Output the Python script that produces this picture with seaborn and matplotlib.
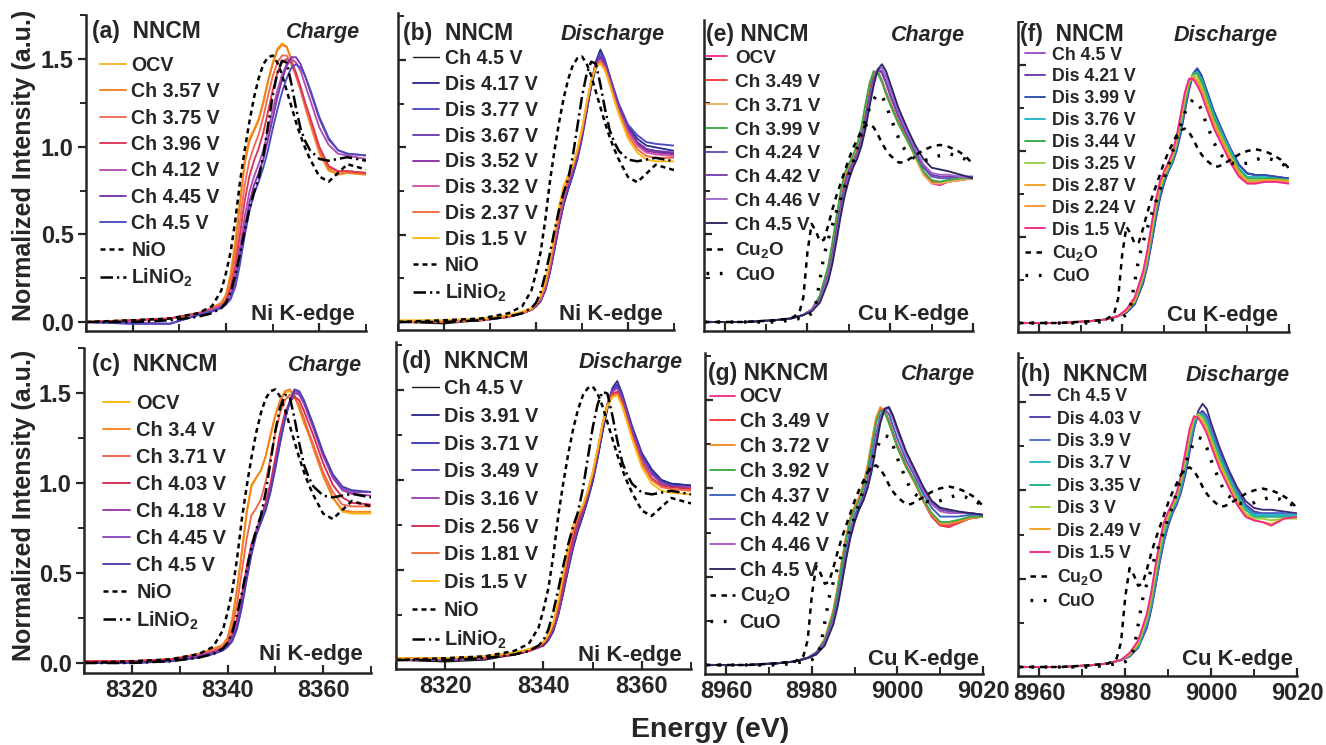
import matplotlib
matplotlib.use("Agg")
import matplotlib.pyplot as plt
from matplotlib.ticker import MultipleLocator
import seaborn as sns

# ---------------- energy grids (eV) ----------------
NI_E = [8310, 8320, 8328, 8334, 8337, 8339, 8340, 8341, 8342, 8343,
        8344, 8345, 8346, 8347, 8348, 8349, 8350, 8351, 8352, 8353,
        8354, 8355, 8356, 8357, 8358, 8360, 8362, 8364, 8366, 8370]
CU_E = [8955, 8965, 8972, 8976, 8979, 8981, 8983, 8985, 8986, 8987,
        8988, 8989, 8990, 8991, 8992, 8993, 8994, 8995, 8996, 8997,
        8998, 8999, 9000, 9002, 9004, 9006, 9008, 9010, 9012, 9014,
        9017, 9020]
CU_REF_E = [8955, 8965, 8972, 8976, 8978, 8979, 8980, 8981, 8982, 8983,
            8984, 8985, 8986, 8987, 8988, 8989, 8990, 8991, 8992, 8993,
            8994, 8995, 8996, 8997, 8998, 8999, 9000, 9001, 9002, 9003,
            9004, 9006, 9008, 9010, 9012, 9014, 9016, 9018, 9020]

# ---------------- reference standards ----------------
NIO = [0.00, 0.01, 0.02, 0.05, 0.09, 0.18, 0.28, 0.40, 0.58, 0.80,
       0.98, 1.14, 1.28, 1.39, 1.47, 1.51, 1.52, 1.48, 1.41, 1.32,
       1.23, 1.14, 1.06, 0.99, 0.93, 0.83, 0.80, 0.85, 0.90, 0.87]
LINIO2 = [0.00, 0.00, 0.01, 0.03, 0.05, 0.08, 0.11, 0.17, 0.27, 0.39,
          0.52, 0.64, 0.74, 0.82, 0.95, 1.12, 1.29, 1.42, 1.49, 1.48,
          1.36, 1.22, 1.10, 1.03, 0.98, 0.93, 0.92, 0.93, 0.94, 0.92]
CU2O = [0.00, 0.00, 0.01, 0.02, 0.05, 0.14, 0.40, 0.56, 0.52, 0.46,
        0.47, 0.55, 0.64, 0.72, 0.79, 0.86, 0.93, 0.99, 1.04, 1.09,
        1.12, 1.13, 1.11, 1.07, 1.02, 0.98, 0.95, 0.93, 0.91, 0.91,
        0.92, 0.95, 0.98, 1.00, 1.01, 1.00, 0.98, 0.95, 0.90]
CUO = [0.00, 0.00, 0.00, 0.01, 0.02, 0.02, 0.03, 0.05, 0.10, 0.24,
       0.38, 0.47, 0.55, 0.63, 0.70, 0.77, 0.84, 0.91, 0.99, 1.07,
       1.15, 1.22, 1.27, 1.30, 1.29, 1.24, 1.17, 1.11, 1.05, 1.00,
       0.97, 0.93, 0.92, 0.93, 0.95, 0.96, 0.95, 0.93, 0.90]

# ---------------- (a) NNCM Ni charge ----------------
A_LABELS = ['OCV', 'Ch 3.57 V', 'Ch 3.75 V', 'Ch 3.96 V', 'Ch 4.12 V', 'Ch 4.45 V', 'Ch 4.5 V']
A_OCV = [0.00, 0.01, 0.02, 0.05, 0.08, 0.11, 0.16, 0.28, 0.47, 0.70,
         0.93, 1.05, 1.10, 1.16, 1.26, 1.38, 1.48, 1.56, 1.59, 1.57,
         1.49, 1.41, 1.32, 1.22, 1.13, 0.96, 0.86, 0.85, 0.86, 0.85]
A_357 = [0.00, 0.01, 0.02, 0.05, 0.08, 0.11, 0.15, 0.26, 0.44, 0.67,
         0.90, 1.03, 1.09, 1.15, 1.25, 1.37, 1.47, 1.55, 1.58, 1.57,
         1.50, 1.42, 1.33, 1.23, 1.14, 0.97, 0.87, 0.84, 0.85, 0.84]
A_375 = [0.00, 0.01, 0.02, 0.05, 0.08, 0.10, 0.13, 0.22, 0.38, 0.58,
         0.78, 0.92, 1.00, 1.07, 1.17, 1.29, 1.40, 1.48, 1.52, 1.52,
         1.47, 1.40, 1.32, 1.23, 1.15, 0.98, 0.88, 0.86, 0.86, 0.85]
A_396 = [0.00, 0.01, 0.02, 0.05, 0.07, 0.09, 0.12, 0.19, 0.32, 0.50,
         0.69, 0.83, 0.92, 0.99, 1.08, 1.20, 1.32, 1.42, 1.48, 1.50,
         1.48, 1.42, 1.34, 1.25, 1.17, 1.00, 0.89, 0.86, 0.86, 0.85]
A_412 = [0.00, 0.00, -0.01, 0.04, 0.07, 0.09, 0.11, 0.16, 0.27, 0.43,
         0.60, 0.74, 0.83, 0.90, 0.98, 1.09, 1.21, 1.32, 1.41, 1.47,
         1.50, 1.48, 1.43, 1.35, 1.27, 1.11, 1.01, 0.96, 0.95, 0.93]
A_445 = [0.00, -0.01, -0.01, 0.04, 0.06, 0.08, 0.10, 0.14, 0.23, 0.38,
         0.54, 0.68, 0.78, 0.85, 0.93, 1.04, 1.16, 1.28, 1.38, 1.46,
         1.51, 1.51, 1.47, 1.40, 1.32, 1.16, 1.04, 0.98, 0.96, 0.95]
A_450 = [0.00, -0.01, -0.01, 0.04, 0.06, 0.08, 0.10, 0.13, 0.20, 0.33,
         0.49, 0.63, 0.73, 0.80, 0.88, 0.98, 1.10, 1.21, 1.31, 1.39,
         1.45, 1.47, 1.45, 1.40, 1.33, 1.17, 1.05, 0.98, 0.96, 0.95]

# ---------------- (b) NNCM Ni discharge ----------------
B_LABELS = ['Ch 4.5 V', 'Dis 4.17 V', 'Dis 3.77 V', 'Dis 3.67 V', 'Dis 3.52 V',
            'Dis 3.32 V', 'Dis 2.37 V', 'Dis 1.5 V']
B_CH45 = [0.00, -0.01, 0.01, 0.03, 0.05, 0.07, 0.09, 0.12, 0.18, 0.28,
          0.41, 0.55, 0.67, 0.76, 0.84, 0.94, 1.06, 1.20, 1.34, 1.45,
          1.50, 1.46, 1.38, 1.30, 1.22, 1.10, 1.03, 0.99, 0.98, 0.96]
B_417 = [0.00, 0.00, 0.01, 0.03, 0.05, 0.07, 0.09, 0.12, 0.18, 0.28,
         0.41, 0.55, 0.67, 0.76, 0.84, 0.93, 1.05, 1.20, 1.36, 1.49,
         1.56, 1.50, 1.41, 1.32, 1.24, 1.12, 1.05, 1.01, 1.00, 0.98]
B_377 = [0.00, 0.00, 0.01, 0.03, 0.05, 0.07, 0.09, 0.12, 0.18, 0.29,
         0.42, 0.56, 0.68, 0.77, 0.85, 0.94, 1.06, 1.21, 1.36, 1.48,
         1.54, 1.49, 1.41, 1.33, 1.25, 1.13, 1.07, 1.03, 1.02, 1.01]
B_367 = [0.00, 0.00, 0.01, 0.03, 0.05, 0.07, 0.09, 0.12, 0.19, 0.30,
         0.43, 0.57, 0.69, 0.78, 0.86, 0.95, 1.07, 1.22, 1.37, 1.47,
         1.52, 1.48, 1.40, 1.31, 1.23, 1.11, 1.03, 0.99, 0.98, 0.97]
B_352 = [0.00, 0.00, 0.01, 0.03, 0.05, 0.07, 0.09, 0.13, 0.19, 0.30,
         0.44, 0.58, 0.70, 0.79, 0.87, 0.96, 1.08, 1.23, 1.37, 1.47,
         1.51, 1.47, 1.39, 1.30, 1.22, 1.10, 1.02, 0.98, 0.97, 0.96]
B_332 = [0.00, 0.00, 0.01, 0.03, 0.05, 0.07, 0.10, 0.13, 0.20, 0.31,
         0.45, 0.59, 0.71, 0.80, 0.88, 0.97, 1.09, 1.24, 1.38, 1.47,
         1.50, 1.46, 1.38, 1.29, 1.21, 1.09, 1.01, 0.97, 0.96, 0.95]
B_237 = [0.00, 0.00, 0.01, 0.03, 0.05, 0.07, 0.10, 0.14, 0.21, 0.33,
         0.47, 0.62, 0.74, 0.82, 0.89, 0.98, 1.10, 1.25, 1.38, 1.47,
         1.49, 1.45, 1.37, 1.28, 1.20, 1.07, 0.99, 0.95, 0.94, 0.94]
B_150 = [0.01, 0.01, 0.02, 0.04, 0.06, 0.08, 0.11, 0.15, 0.23, 0.35,
         0.50, 0.66, 0.78, 0.84, 0.90, 0.99, 1.11, 1.25, 1.38, 1.46,
         1.48, 1.44, 1.36, 1.27, 1.19, 1.05, 0.97, 0.93, 0.92, 0.92]

# ---------------- (c) NKNCM Ni charge ----------------
C_LABELS = ['OCV', 'Ch 3.4 V', 'Ch 3.71 V', 'Ch 4.03 V', 'Ch 4.18 V', 'Ch 4.45 V', 'Ch 4.5 V']
C_OCV = [0.01, 0.01, 0.02, 0.05, 0.07, 0.10, 0.14, 0.25, 0.42, 0.62,
         0.84, 0.99, 1.03, 1.07, 1.15, 1.26, 1.37, 1.45, 1.50, 1.51,
         1.48, 1.41, 1.33, 1.27, 1.19, 1.04, 0.92, 0.84, 0.83, 0.83]
C_34 = [0.01, 0.01, 0.02, 0.05, 0.08, 0.10, 0.14, 0.24, 0.41, 0.61,
        0.83, 0.98, 1.03, 1.07, 1.15, 1.27, 1.38, 1.46, 1.51, 1.52,
        1.49, 1.42, 1.34, 1.27, 1.19, 1.04, 0.92, 0.85, 0.84, 0.84]
C_371 = [0.01, 0.01, 0.02, 0.05, 0.07, 0.09, 0.12, 0.20, 0.33, 0.51,
         0.69, 0.82, 0.86, 0.91, 1.01, 1.14, 1.28, 1.39, 1.46, 1.49,
         1.48, 1.43, 1.36, 1.28, 1.21, 1.06, 0.95, 0.88, 0.87, 0.87]
C_403 = [0.01, 0.01, 0.02, 0.04, 0.06, 0.08, 0.11, 0.16, 0.25, 0.38,
         0.53, 0.66, 0.74, 0.81, 0.89, 1.00, 1.14, 1.28, 1.39, 1.45,
         1.48, 1.46, 1.40, 1.33, 1.26, 1.11, 0.99, 0.92, 0.89, 0.88]
C_418 = [0.00, 0.00, 0.01, 0.04, 0.06, 0.08, 0.10, 0.14, 0.22, 0.34,
         0.49, 0.63, 0.73, 0.80, 0.87, 0.97, 1.10, 1.24, 1.36, 1.45,
         1.50, 1.49, 1.44, 1.37, 1.30, 1.15, 1.03, 0.96, 0.94, 0.93]
C_445 = [0.00, 0.00, 0.01, 0.03, 0.05, 0.07, 0.09, 0.13, 0.20, 0.32,
         0.47, 0.61, 0.72, 0.79, 0.86, 0.96, 1.09, 1.23, 1.36, 1.45,
         1.51, 1.50, 1.45, 1.38, 1.31, 1.16, 1.04, 0.97, 0.95, 0.95]
C_450 = [0.00, 0.00, 0.01, 0.03, 0.05, 0.07, 0.09, 0.12, 0.19, 0.31,
         0.46, 0.60, 0.71, 0.78, 0.85, 0.95, 1.08, 1.22, 1.35, 1.45,
         1.52, 1.51, 1.46, 1.39, 1.32, 1.17, 1.05, 0.98, 0.96, 0.95]

# ---------------- (d) NKNCM Ni discharge ----------------
D_LABELS = ['Ch 4.5 V', 'Dis 3.91 V', 'Dis 3.71 V', 'Dis 3.49 V', 'Dis 3.16 V',
            'Dis 2.56 V', 'Dis 1.81 V', 'Dis 1.5 V']
D_CH45 = [0.00, -0.01, 0.00, 0.03, 0.05, 0.07, 0.08, 0.11, 0.16, 0.25,
          0.37, 0.50, 0.62, 0.72, 0.80, 0.89, 0.99, 1.12, 1.26, 1.39,
          1.49, 1.53, 1.47, 1.38, 1.29, 1.14, 1.05, 1.00, 0.98, 0.97]
D_391 = [0.00, 0.00, 0.01, 0.03, 0.05, 0.07, 0.08, 0.11, 0.16, 0.25,
         0.37, 0.50, 0.62, 0.72, 0.80, 0.89, 0.99, 1.12, 1.27, 1.41,
         1.51, 1.55, 1.48, 1.39, 1.30, 1.15, 1.06, 1.00, 0.98, 0.97]
D_371 = [0.00, 0.00, 0.01, 0.03, 0.05, 0.07, 0.09, 0.12, 0.17, 0.26,
         0.38, 0.51, 0.63, 0.73, 0.81, 0.90, 1.00, 1.13, 1.28, 1.41,
         1.50, 1.53, 1.47, 1.38, 1.29, 1.14, 1.05, 0.99, 0.97, 0.96]
D_349 = [0.00, 0.00, 0.01, 0.03, 0.05, 0.07, 0.09, 0.12, 0.17, 0.26,
         0.39, 0.52, 0.64, 0.74, 0.82, 0.91, 1.01, 1.14, 1.29, 1.42,
         1.50, 1.52, 1.46, 1.37, 1.28, 1.13, 1.04, 0.99, 0.97, 0.96]
D_316 = [0.00, 0.00, 0.01, 0.03, 0.05, 0.07, 0.09, 0.12, 0.18, 0.27,
         0.40, 0.53, 0.65, 0.75, 0.83, 0.92, 1.02, 1.15, 1.30, 1.42,
         1.49, 1.51, 1.45, 1.36, 1.27, 1.12, 1.03, 0.98, 0.96, 0.96]
D_256 = [0.01, 0.01, 0.01, 0.03, 0.05, 0.07, 0.09, 0.13, 0.19, 0.29,
         0.42, 0.56, 0.68, 0.77, 0.84, 0.93, 1.03, 1.16, 1.31, 1.42,
         1.48, 1.49, 1.43, 1.34, 1.25, 1.10, 1.01, 0.97, 0.96, 0.95]
D_181 = [0.01, 0.01, 0.02, 0.04, 0.06, 0.08, 0.10, 0.14, 0.20, 0.31,
         0.45, 0.59, 0.71, 0.79, 0.85, 0.94, 1.04, 1.17, 1.31, 1.42,
         1.47, 1.48, 1.42, 1.33, 1.24, 1.09, 1.00, 0.96, 0.95, 0.94]
D_150 = [0.01, 0.01, 0.02, 0.04, 0.06, 0.08, 0.10, 0.14, 0.21, 0.33,
         0.48, 0.63, 0.75, 0.81, 0.86, 0.94, 1.04, 1.17, 1.31, 1.41,
         1.46, 1.47, 1.41, 1.32, 1.23, 1.07, 0.98, 0.94, 0.93, 0.92]

# ---------------- (e) NNCM Cu charge ----------------
E_LABELS = ['OCV', 'Ch 3.49 V', 'Ch 3.71 V', 'Ch 3.99 V', 'Ch 4.24 V', 'Ch 4.42 V',
            'Ch 4.46 V', 'Ch 4.5 V']
E_OCV = [0.00, 0.00, 0.01, 0.02, 0.04, 0.07, 0.14, 0.30, 0.42, 0.57,
         0.71, 0.82, 0.88, 0.93, 0.99, 1.08, 1.21, 1.34, 1.42, 1.43,
         1.38, 1.31, 1.25, 1.14, 1.05, 0.95, 0.85, 0.79, 0.78, 0.80,
         0.81, 0.82]
E_349 = [0.00, 0.00, 0.01, 0.02, 0.04, 0.07, 0.14, 0.30, 0.42, 0.57,
         0.71, 0.82, 0.88, 0.93, 0.99, 1.08, 1.21, 1.34, 1.42, 1.42,
         1.37, 1.31, 1.25, 1.14, 1.05, 0.95, 0.85, 0.80, 0.79, 0.80,
         0.81, 0.82]
E_371 = [0.00, 0.00, 0.01, 0.02, 0.04, 0.07, 0.15, 0.31, 0.44, 0.59,
         0.73, 0.84, 0.89, 0.94, 1.00, 1.10, 1.23, 1.36, 1.43, 1.42,
         1.37, 1.30, 1.24, 1.13, 1.04, 0.94, 0.84, 0.79, 0.79, 0.80,
         0.81, 0.82]
E_399 = [0.00, 0.00, 0.01, 0.02, 0.04, 0.07, 0.15, 0.32, 0.45, 0.60,
         0.74, 0.85, 0.90, 0.95, 1.01, 1.11, 1.24, 1.36, 1.43, 1.42,
         1.37, 1.30, 1.24, 1.13, 1.04, 0.95, 0.86, 0.81, 0.80, 0.81,
         0.82, 0.82]
E_424 = [0.00, 0.00, 0.01, 0.02, 0.04, 0.07, 0.13, 0.27, 0.38, 0.52,
         0.66, 0.78, 0.86, 0.91, 0.96, 1.04, 1.16, 1.29, 1.39, 1.44,
         1.42, 1.36, 1.29, 1.17, 1.07, 0.97, 0.88, 0.83, 0.82, 0.82,
         0.83, 0.83]
E_442 = [0.00, 0.00, 0.01, 0.02, 0.04, 0.07, 0.13, 0.26, 0.37, 0.51,
         0.65, 0.77, 0.85, 0.90, 0.95, 1.03, 1.15, 1.28, 1.38, 1.44,
         1.43, 1.37, 1.30, 1.18, 1.08, 0.98, 0.89, 0.84, 0.83, 0.83,
         0.83, 0.82]
E_446 = [0.00, 0.00, 0.01, 0.02, 0.04, 0.07, 0.12, 0.25, 0.35, 0.48,
         0.62, 0.74, 0.83, 0.89, 0.94, 1.01, 1.12, 1.25, 1.36, 1.44,
         1.45, 1.40, 1.33, 1.20, 1.09, 0.99, 0.90, 0.85, 0.84, 0.84,
         0.83, 0.82]
E_450 = [0.00, 0.00, 0.01, 0.02, 0.04, 0.06, 0.11, 0.23, 0.33, 0.46,
         0.60, 0.72, 0.81, 0.88, 0.93, 1.00, 1.10, 1.23, 1.35, 1.44,
         1.47, 1.43, 1.36, 1.22, 1.11, 1.01, 0.93, 0.88, 0.87, 0.86,
         0.84, 0.82]

# ---------------- (f) NNCM Cu discharge ----------------
F_LABELS = ['Ch 4.5 V', 'Dis 4.21 V', 'Dis 3.99 V', 'Dis 3.76 V', 'Dis 3.44 V',
            'Dis 3.25 V', 'Dis 2.87 V', 'Dis 2.24 V', 'Dis 1.5 V']
F_CH45 = [0.00, 0.00, 0.01, 0.02, 0.04, 0.06, 0.11, 0.23, 0.33, 0.46,
          0.60, 0.72, 0.81, 0.88, 0.93, 1.00, 1.10, 1.23, 1.35, 1.44,
          1.47, 1.43, 1.36, 1.22, 1.11, 1.01, 0.92, 0.87, 0.86, 0.86,
          0.85, 0.84]
F_421 = [0.00, 0.00, 0.01, 0.02, 0.04, 0.06, 0.11, 0.23, 0.33, 0.46,
         0.60, 0.72, 0.81, 0.88, 0.93, 1.00, 1.10, 1.23, 1.36, 1.45,
         1.48, 1.44, 1.37, 1.23, 1.12, 1.01, 0.92, 0.87, 0.86, 0.86,
         0.85, 0.84]
F_399 = [0.00, 0.00, 0.01, 0.02, 0.04, 0.06, 0.11, 0.24, 0.34, 0.47,
         0.61, 0.73, 0.82, 0.88, 0.93, 1.00, 1.11, 1.24, 1.37, 1.45,
         1.48, 1.44, 1.37, 1.23, 1.11, 1.01, 0.92, 0.87, 0.86, 0.86,
         0.85, 0.84]
F_376 = [0.00, 0.00, 0.01, 0.02, 0.04, 0.07, 0.12, 0.25, 0.35, 0.49,
         0.63, 0.75, 0.83, 0.89, 0.94, 1.02, 1.13, 1.26, 1.38, 1.45,
         1.46, 1.42, 1.35, 1.21, 1.10, 1.00, 0.90, 0.85, 0.85, 0.85,
         0.84, 0.83]
F_344 = [0.00, 0.00, 0.01, 0.02, 0.04, 0.07, 0.12, 0.26, 0.37, 0.51,
         0.65, 0.77, 0.84, 0.90, 0.95, 1.03, 1.15, 1.28, 1.39, 1.45,
         1.45, 1.40, 1.33, 1.19, 1.08, 0.98, 0.89, 0.84, 0.84, 0.84,
         0.84, 0.83]
F_325 = [0.00, 0.00, 0.01, 0.02, 0.04, 0.07, 0.13, 0.27, 0.38, 0.52,
         0.66, 0.78, 0.85, 0.91, 0.96, 1.04, 1.17, 1.30, 1.40, 1.44,
         1.43, 1.38, 1.31, 1.17, 1.07, 0.97, 0.88, 0.83, 0.83, 0.83,
         0.83, 0.83]
F_287 = [0.00, 0.00, 0.01, 0.02, 0.04, 0.07, 0.13, 0.28, 0.39, 0.54,
         0.68, 0.79, 0.86, 0.91, 0.97, 1.06, 1.19, 1.32, 1.41, 1.43,
         1.41, 1.36, 1.29, 1.16, 1.06, 0.96, 0.87, 0.82, 0.82, 0.83,
         0.83, 0.82]
F_224 = [0.00, 0.00, 0.01, 0.02, 0.04, 0.07, 0.14, 0.29, 0.40, 0.55,
         0.69, 0.80, 0.87, 0.92, 0.98, 1.07, 1.20, 1.33, 1.41, 1.42,
         1.40, 1.35, 1.28, 1.15, 1.05, 0.95, 0.86, 0.82, 0.82, 0.82,
         0.83, 0.82]
F_150 = [0.00, 0.00, 0.01, 0.02, 0.04, 0.08, 0.15, 0.30, 0.42, 0.57,
         0.71, 0.82, 0.88, 0.93, 0.99, 1.08, 1.21, 1.34, 1.42, 1.42,
         1.38, 1.33, 1.26, 1.13, 1.03, 0.93, 0.85, 0.81, 0.81, 0.82,
         0.82, 0.81]

# ---------------- (g) NKNCM Cu charge ----------------
G_LABELS = ['OCV', 'Ch 3.49 V', 'Ch 3.72 V', 'Ch 3.92 V', 'Ch 4.37 V', 'Ch 4.42 V',
            'Ch 4.46 V', 'Ch 4.5 V']
G_OCV = [0.00, 0.00, 0.01, 0.02, 0.04, 0.07, 0.14, 0.30, 0.43, 0.58,
         0.72, 0.83, 0.89, 0.94, 1.01, 1.11, 1.25, 1.38, 1.45, 1.44,
         1.38, 1.31, 1.24, 1.13, 1.04, 0.93, 0.84, 0.79, 0.79, 0.81,
         0.83, 0.84]
G_349 = [0.00, 0.00, 0.01, 0.02, 0.04, 0.07, 0.14, 0.30, 0.43, 0.58,
         0.72, 0.83, 0.89, 0.94, 1.01, 1.11, 1.25, 1.38, 1.45, 1.44,
         1.38, 1.31, 1.24, 1.13, 1.04, 0.93, 0.84, 0.79, 0.78, 0.80,
         0.83, 0.84]
G_372 = [0.00, 0.00, 0.01, 0.02, 0.04, 0.07, 0.15, 0.31, 0.44, 0.59,
         0.73, 0.84, 0.90, 0.95, 1.02, 1.13, 1.27, 1.40, 1.46, 1.44,
         1.37, 1.30, 1.23, 1.12, 1.03, 0.93, 0.85, 0.80, 0.80, 0.81,
         0.83, 0.84]
G_392 = [0.00, 0.00, 0.01, 0.02, 0.04, 0.07, 0.14, 0.29, 0.42, 0.57,
         0.71, 0.82, 0.88, 0.93, 1.00, 1.10, 1.24, 1.37, 1.44, 1.43,
         1.37, 1.30, 1.23, 1.12, 1.04, 0.94, 0.86, 0.81, 0.81, 0.82,
         0.84, 0.84]
G_437 = [0.00, 0.00, 0.01, 0.02, 0.04, 0.07, 0.13, 0.26, 0.37, 0.51,
         0.65, 0.77, 0.85, 0.90, 0.96, 1.05, 1.18, 1.31, 1.41, 1.45,
         1.42, 1.35, 1.28, 1.16, 1.07, 0.97, 0.89, 0.84, 0.84, 0.84,
         0.85, 0.85]
G_442 = [0.00, 0.00, 0.01, 0.02, 0.04, 0.06, 0.12, 0.24, 0.34, 0.47,
         0.61, 0.73, 0.82, 0.88, 0.93, 1.01, 1.12, 1.26, 1.38, 1.45,
         1.46, 1.40, 1.33, 1.20, 1.10, 1.00, 0.92, 0.88, 0.87, 0.86,
         0.86, 0.85]
G_446 = [0.00, 0.00, 0.01, 0.02, 0.04, 0.06, 0.12, 0.25, 0.35, 0.48,
         0.62, 0.74, 0.83, 0.88, 0.94, 1.02, 1.14, 1.28, 1.39, 1.45,
         1.45, 1.39, 1.32, 1.19, 1.09, 0.99, 0.91, 0.87, 0.86, 0.86,
         0.86, 0.85]
G_450 = [0.00, 0.00, 0.01, 0.02, 0.04, 0.06, 0.11, 0.23, 0.33, 0.46,
         0.60, 0.72, 0.81, 0.88, 0.93, 1.00, 1.10, 1.24, 1.37, 1.45,
         1.46, 1.41, 1.34, 1.21, 1.11, 1.01, 0.93, 0.89, 0.88, 0.87,
         0.86, 0.85]

# ---------------- (h) NKNCM Cu discharge ----------------
H_LABELS = ['Ch 4.5 V', 'Dis 4.03 V', 'Dis 3.9 V', 'Dis 3.7 V', 'Dis 3.35 V',
            'Dis 3 V', 'Dis 2.49 V', 'Dis 1.5 V']
H_CH45 = [0.00, 0.00, 0.01, 0.02, 0.04, 0.06, 0.11, 0.22, 0.32, 0.45,
          0.59, 0.71, 0.80, 0.87, 0.92, 0.99, 1.09, 1.22, 1.35, 1.45,
          1.49, 1.46, 1.38, 1.24, 1.12, 1.02, 0.94, 0.90, 0.89, 0.89,
          0.88, 0.87]
H_403 = [0.00, 0.00, 0.01, 0.02, 0.04, 0.06, 0.11, 0.23, 0.33, 0.46,
         0.60, 0.72, 0.81, 0.88, 0.93, 1.00, 1.10, 1.23, 1.35, 1.43,
         1.45, 1.42, 1.35, 1.22, 1.10, 1.00, 0.92, 0.88, 0.87, 0.87,
         0.87, 0.86]
H_390 = [0.00, 0.00, 0.01, 0.02, 0.04, 0.06, 0.11, 0.23, 0.33, 0.46,
         0.60, 0.72, 0.81, 0.88, 0.93, 1.00, 1.11, 1.24, 1.36, 1.43,
         1.44, 1.41, 1.34, 1.21, 1.09, 0.99, 0.91, 0.87, 0.87, 0.87,
         0.87, 0.86]
H_370 = [0.00, 0.00, 0.01, 0.02, 0.04, 0.07, 0.12, 0.25, 0.35, 0.49,
         0.63, 0.75, 0.83, 0.89, 0.94, 1.02, 1.13, 1.27, 1.38, 1.43,
         1.43, 1.39, 1.32, 1.19, 1.08, 0.98, 0.90, 0.86, 0.86, 0.86,
         0.86, 0.86]
H_335 = [0.00, 0.00, 0.01, 0.02, 0.04, 0.07, 0.12, 0.26, 0.36, 0.50,
         0.64, 0.76, 0.84, 0.90, 0.95, 1.03, 1.15, 1.28, 1.39, 1.43,
         1.42, 1.38, 1.31, 1.18, 1.07, 0.97, 0.89, 0.85, 0.85, 0.85,
         0.85, 0.85]
H_300 = [0.00, 0.00, 0.01, 0.02, 0.04, 0.07, 0.13, 0.27, 0.38, 0.52,
         0.66, 0.78, 0.85, 0.91, 0.96, 1.05, 1.17, 1.30, 1.40, 1.43,
         1.41, 1.36, 1.29, 1.16, 1.05, 0.95, 0.87, 0.84, 0.84, 0.83,
         0.84, 0.84]
H_249 = [0.00, 0.00, 0.01, 0.02, 0.04, 0.07, 0.14, 0.29, 0.40, 0.55,
         0.69, 0.80, 0.87, 0.92, 0.98, 1.07, 1.20, 1.33, 1.41, 1.42,
         1.39, 1.34, 1.27, 1.14, 1.04, 0.94, 0.86, 0.83, 0.82, 0.81,
         0.84, 0.85]
H_150 = [0.00, 0.00, 0.01, 0.02, 0.04, 0.08, 0.15, 0.30, 0.42, 0.57,
         0.71, 0.82, 0.88, 0.93, 0.99, 1.09, 1.22, 1.35, 1.42, 1.41,
         1.37, 1.32, 1.25, 1.12, 1.02, 0.92, 0.85, 0.83, 0.82, 0.80,
         0.84, 0.85]

# ---------------- colours ----------------
A_COLORS = ['#F7B52C', '#F27E1E', '#F06A55', '#DE3556', '#B24DB0', '#7B36AE', '#4E4CC4']
B_COLORS = ['#1A1A1A', '#2E2C8C', '#4A4AC2', '#6A3CB2', '#8A2FA2', '#D050AA', '#F26A3A', '#FDB913']
C_COLORS = ['#F9B714', '#F5821F', '#F0644A', '#D9294F', '#9A3AA8', '#8A4ABE', '#4A3FB0']
D_COLORS = ['#1A1A1A', '#2E2C8C', '#3A3AB2', '#5A3DB5', '#9A45B0', '#D42A50', '#F26A3A', '#FDB913']
E_COLORS = ['#F0308C', '#EE3A3A', '#E8B050', '#3AAA45', '#5A55B5', '#7B3FAF', '#A566CC', '#2B2660']
F_COLORS = ['#A050C0', '#6A3AA8', '#2A4FAF', '#22B5C8', '#35A845', '#9ACD45', '#F0A020', '#F7962E', '#F0288A']
G_COLORS = ['#F0308C', '#EE3A3A', '#F08A2A', '#3AAA45', '#3A62C0', '#6A48B8', '#A858C8', '#2B2660']
H_COLORS = ['#3A2A7A', '#4E3AA8', '#4A6AC8', '#22B5C8', '#25B08A', '#9ACD32', '#F0A020', '#F0288A']

# ---------------- style ----------------
sns.set_theme(style="ticks")
plt.rcParams['font.family'] = ['Liberation Sans', 'DejaVu Sans']
plt.rcParams['font.weight'] = 'bold'
plt.rcParams['mathtext.fontset'] = 'custom'
plt.rcParams['mathtext.rm'] = 'Liberation Sans:bold'
plt.rcParams['mathtext.bf'] = 'Liberation Sans:bold'
plt.rcParams['mathtext.it'] = 'Liberation Sans:bold:italic'
plt.rcParams['axes.linewidth'] = 1.6

W, H = 1326, 745
fig = plt.figure(figsize=(W / 100, H / 100), dpi=100)


def fx(x):
    return x / W


def fy(y):
    return 1 - y / H


def ftext(x, y_center, s, size, **kw):
    # place text so that the middle of its capitals sits at y_center (pixels from top)
    spx = size * 100 / 72
    return fig.text(fx(x), fy(y_center + 0.36 * spx), s, fontsize=size,
                    fontweight='bold', va='baseline', **kw)


NI_REFS = [(NI_E, NIO, 'NiO', (0, (2.0, 1.6))),
           (NI_E, LINIO2, 'LiNiO$_2$', (0, (5.0, 1.6, 0.9, 1.6)))]
CU_REFS = [(CU_REF_E, CU2O, 'Cu$_2$O', (0, (2.2, 2.2))),
           (CU_REF_E, CUO, 'CuO', (0, (0.8, 3.2)))]

# leg = (handle_left_x, first_row_y, k, row_k_y, fontsize, handlelength, handletextpad)
PANELS = [
    dict(tag='(a)  NNCM', mode='Charge', edge='Ni K-edge', E=NI_E,
         curves=[A_OCV, A_357, A_375, A_396, A_412, A_445, A_450],
         labels=A_LABELS, colors=A_COLORS, refs=NI_REFS, ni=True,
         box=(86, 366, 15, 331, 322, 59), title=(92, 30), mode_x=360, edge_xy=(355, 312),
         leg=(100, 63.3, 7, 248.3, 14.1, 1.35, 0.25), xlab=False, ylab=True),
    dict(tag='(b)  NNCM', mode='Discharge', edge='Ni K-edge', E=NI_E,
         curves=[B_CH45, B_417, B_377, B_367, B_352, B_332, B_237, B_150],
         labels=B_LABELS, colors=B_COLORS, refs=NI_REFS, ni=True,
         box=(398, 674, 13, 330, 322, 60), title=(403, 32), mode_x=665, edge_xy=(663, 312),
         leg=(413, 56.7, 8, 263.3, 14.1, 1.35, 0.28), xlab=False, ylab=False),
    dict(tag='(e) NNCM', mode='Charge', edge='Cu K-edge', E=CU_E,
         curves=[E_OCV, E_349, E_371, E_399, E_424, E_442, E_446, E_450],
         labels=E_LABELS, colors=E_COLORS, refs=CU_REFS, ni=False,
         box=(704, 973, 20, 331, 322, 59), title=(706, 33), mode_x=965, edge_xy=(969, 312),
         leg=(706, 56.7, 7, 223.3, 13.7, 1.1, 0.43), xlab=False, ylab=False),
    dict(tag='(f)  NNCM', mode='Discharge', edge='Cu K-edge', E=CU_E,
         curves=[F_CH45, F_421, F_399, F_376, F_344, F_325, F_287, F_224, F_150],
         labels=F_LABELS, colors=F_COLORS, refs=CU_REFS, ni=False,
         box=(1018, 1289, 22, 332, 323, 65), title=(1020, 33), mode_x=1278, edge_xy=(1278, 313),
         leg=(1025, 53.3, 8, 228.3, 12.8, 1.15, 0.38), xlab=False, ylab=False),
    dict(tag='(c)  NKNCM', mode='Charge', edge='Ni K-edge', E=NI_E,
         curves=[C_OCV, C_34, C_371, C_403, C_418, C_445, C_450],
         labels=C_LABELS, colors=C_COLORS, refs=NI_REFS, ni=True,
         box=(84, 371, 348, 673, 663, 393), title=(92, 363), mode_x=362, edge_xy=(363, 652),
         leg=(103, 401.7, 7, 590.0, 14.4, 1.35, 0.31), xlab=True, ylab=True),
    dict(tag='(d)  NKNCM', mode='Discharge', edge='Ni K-edge', E=NI_E,
         curves=[D_CH45, D_391, D_371, D_349, D_316, D_256, D_181, D_150],
         labels=D_LABELS, colors=D_COLORS, refs=NI_REFS, ni=True,
         box=(396, 691, 342, 669, 660, 390), title=(402, 360), mode_x=683, edge_xy=(682, 653),
         leg=(412, 386.7, 8, 608.3, 14.4, 1.35, 0.25), xlab=True, ylab=False),
    dict(tag='(g) NKNCM', mode='Charge', edge='Cu K-edge', E=CU_E,
         curves=[G_OCV, G_349, G_372, G_392, G_437, G_442, G_446, G_450],
         labels=G_LABELS, colors=G_COLORS, refs=CU_REFS, ni=False,
         box=(705, 983, 353, 674, 665, 400), title=(708, 372), mode_x=975, edge_xy=(979, 657),
         leg=(710, 395.0, 7, 568.3, 14.2, 1.25, 0.25), xlab=True, ylab=False),
    dict(tag='(h)  NKNCM', mode='Discharge', edge='Cu K-edge', E=CU_E,
         curves=[H_CH45, H_403, H_390, H_370, H_335, H_300, H_249, H_150],
         labels=H_LABELS, colors=H_COLORS, refs=CU_REFS, ni=False,
         box=(1018, 1297, 353, 676, 667, 402), title=(1021, 373), mode_x=1290, edge_xy=(1293, 657),
         leg=(1030, 395.0, 7, 551.7, 12.8, 1.15, 0.38), xlab=True, ylab=False),
]

axes = []
for p in PANELS:
    l, r, t, b, y0, y15 = p['box']
    ax = fig.add_axes([fx(l), fy(b), (r - l) / W, (b - t) / H])
    axes.append(ax)
    unit = (y0 - y15) / 1.5
    for vals, lab, col in zip(p['curves'], p['labels'], p['colors']):
        lw = 1.0 if col == '#1A1A1A' else 1.35
        sns.lineplot(x=p['E'], y=vals, ax=ax, color=col, linewidth=lw, label=lab)
    for (Eref, vals, lab, ls) in p['refs']:
        lw = 2.4 if lab == 'CuO' else 1.8
        sns.lineplot(x=Eref, y=vals, ax=ax, color='black', linewidth=lw, label=lab,
                     linestyle=ls)
    if p['ni']:
        ax.set_xlim(8310, 8370)
        ax.xaxis.set_major_locator(MultipleLocator(20))
        ax.xaxis.set_minor_locator(MultipleLocator(10))
    else:
        ax.set_xlim(8955, 9020)
        ax.set_xticks([8960, 8980, 9000, 9020])
        ax.set_xticks([8970, 8990, 9010], minor=True)
    ax.set_ylim(-(b - y0) / unit, (y0 - t) / unit)
    ax.yaxis.set_major_locator(MultipleLocator(0.5))
    ax.yaxis.set_minor_locator(MultipleLocator(0.25))
    ax.set_xlabel('')
    ax.set_ylabel('')
    sns.despine(ax=ax)
    for s in ['left', 'bottom']:
        ax.spines[s].set_linewidth(1.8)
    ax.tick_params(axis='x', which='major', direction='in', length=6, width=1.6,
                   labelsize=17, pad=4, labelbottom=p['xlab'])
    ax.tick_params(axis='x', which='minor', direction='in', length=5, width=1.4)
    ydir = 'out' if p['ylab'] else 'in'
    ax.tick_params(axis='y', which='major', direction=ydir, length=6, width=1.6,
                   labelsize=17, pad=3, labelleft=p['ylab'])
    ax.tick_params(axis='y', which='minor', direction=ydir, length=4, width=1.4)
    for lbl in ax.get_xticklabels() + ax.get_yticklabels():
        lbl.set_fontweight('bold')

    tx, ty = p['title']
    ftext(tx, ty, p['tag'], 16.5, ha='left')
    ftext(p['mode_x'], ty, p['mode'], 15.5, ha='right', style='italic')
    ex, ey = p['edge_xy']
    ftext(ex, ey, p['edge'], 16, ha='right')


def make_legend(ax, p, lsp, top):
    hx, y1, k, yk, fs, hl, htp = p['leg']
    handles = ax.get_lines()
    labels = [h.get_label() for h in handles]
    return ax.legend(handles, labels, loc='upper left',
                     bbox_to_anchor=(fx(hx), fy(top)), bbox_transform=fig.transFigure,
                     frameon=False, borderpad=0, borderaxespad=0,
                     labelspacing=lsp, handlelength=hl, handletextpad=htp,
                     prop={'weight': 'bold', 'size': fs})


# legends: calibrate spacing and vertical position against measured row centres
state = []
for ax, p in zip(axes, PANELS):
    fs = p['leg'][4]
    spx = fs * 100 / 72
    lsp, top = 0.4, p['leg'][1] - 0.5 * spx
    state.append([lsp, top])
    make_legend(ax, p, lsp, top)

for it in range(3):
    fig.canvas.draw()
    rend = fig.canvas.get_renderer()
    for i, (ax, p) in enumerate(zip(axes, PANELS)):
        hx, y1, k, yk, fs, hl, htp = p['leg']
        spx = fs * 100 / 72
        leg = ax.get_legend()
        texts = leg.get_texts()
        b0 = texts[0].get_window_extent(rend)
        bk = texts[k].get_window_extent(rend)
        # visual centre of caps is ~0.1 em above the bbox centre
        c0 = H - (b0.y0 + b0.y1) / 2 - 0.1 * spx
        ck = H - (bk.y0 + bk.y1) / 2 - 0.1 * spx
        act = (ck - c0) / k
        tgt = (yk - y1) / k
        state[i][0] += (tgt - act) / spx
        state[i][1] += (y1 - c0)
        make_legend(ax, p, state[i][0], state[i][1])

ylab = 'Normalized Intensity (a.u.)'
fig.text(fx(24), fy(165), ylab, rotation=90, fontsize=18, fontweight='bold',
         ha='center', va='center')
fig.text(fx(24), fy(505), ylab, rotation=90, fontsize=18, fontweight='bold',
         ha='center', va='center')
fig.text(fx(710), fy(737), 'Energy (eV)', fontsize=20.5, fontweight='bold',
         ha='center', va='baseline')

fig.savefig('out.png', dpi=100)
